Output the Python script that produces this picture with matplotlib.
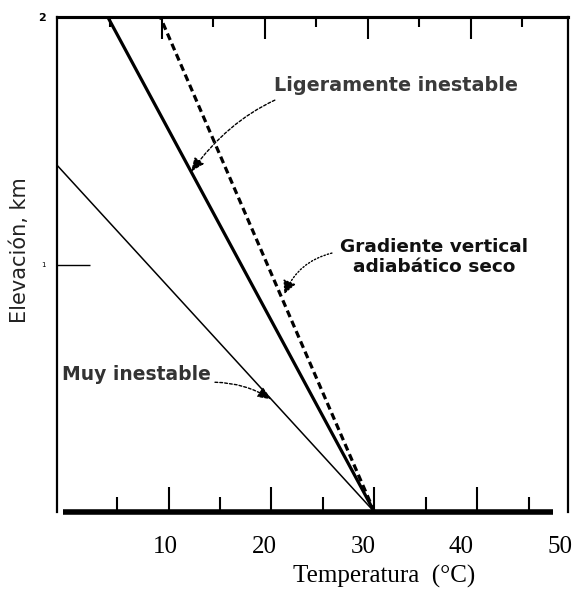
import numpy as np
import matplotlib
matplotlib.use("Agg")
import matplotlib.pyplot as plt

# ---- data ----
elev = [0.0, 2.0]                       # km
temp_dry = [30.0, 9.2]                   # dry adiabatic lapse rate (dashed)
temp_slight = [30.0, 4.1]                # slightly unstable (thick solid)
elev_very = [0.0, 1.40]
temp_very = [30.0, -0.8]                 # very unstable (thin solid)

xtick_major = [10, 20, 30, 40]
xtick_minor = [5, 15, 25, 35, 45]
xtick_labels = ["10", "20", "30", "40", "50"]
xtick_label_pos = [10, 20, 30, 40, 50]
ytick_vals = [1, 2]
ytick_labels = ["1", "2"]

lbl_slight = "Ligeramente inestable"
lbl_dry = "Gradiente vertical\nadiabático seco"
lbl_very = "Muy inestable"

fig = plt.figure(figsize=(5.75, 5.94), dpi=100)
pos = [57/575, (594-512)/594, (568-57)/575, (512-17)/594]
ax = fig.add_axes(pos)
ax.set_xlim(-0.83, 48.8)
ax.set_ylim(0, 2)

ax.plot(temp_dry, elev, color="black", lw=2.3, ls=(0, (2.2, 1.3)))
ax.plot(temp_slight, elev, color="black", lw=2.3)
ax.plot(temp_very, elev_very, color="black", lw=1.1)

# frame
for s in ["left", "right", "top"]:
    ax.spines[s].set_linewidth(1.6)
ax.spines["top"].set_linewidth(2.2)
ax.spines["bottom"].set_visible(False)
ax.axhline(0, xmin=0.012, xmax=0.97, color="black", lw=4, solid_capstyle="butt", clip_on=False)

# x ticks (inward, bottom)
ax.set_xticks(xtick_major)
ax.set_xticks(xtick_minor, minor=True)
ax.set_xticklabels([])
ax.tick_params(axis="x", which="major", direction="in", length=18, width=1.5,
               top=False, bottom=True)
ax.tick_params(axis="x", which="minor", direction="in", length=11, width=1.5,
               top=False, bottom=True)
# top ticks (slightly shifted in the scanned original)
sec = ax.secondary_xaxis("top", functions=(lambda v: v + 0.65, lambda v: v - 0.65))
sec.set_xticks(xtick_major)
sec.set_xticks(xtick_minor, minor=True)
sec.set_xticklabels([])
sec.tick_params(which="major", direction="in", length=16, width=1.5)
sec.tick_params(which="minor", direction="in", length=7, width=1.5)
sec.spines["top"].set_linewidth(2.2)

# tick labels row (own scale, as in the original print)
axl = fig.add_axes(pos, frameon=False)
axl.set_xlim(-1.0, 50.8)
axl.set_ylim(0, 2)
axl.set_yticks([])
axl.set_xticks(xtick_label_pos)
axl.set_xticklabels(xtick_labels, fontsize=18, family="Liberation Serif")
axl.tick_params(axis="x", length=0, pad=17)
axl.patch.set_visible(False)
axl.text(0.64, -0.131, "Temperatura  (°C)", ha="center", va="center",
         fontsize=18, family="Liberation Serif", transform=axl.transAxes)

# y ticks
ax.set_yticks(ytick_vals)
ax.set_yticklabels(ytick_labels)
ax.tick_params(axis="y", direction="in", length=24, width=1.0, pad=8)
tl = ax.get_yticklabels()
tl[0].set_fontsize(5)
tl[1].set_fontsize(8)
tl[1].set_fontweight("bold")
ax.set_ylabel("Elevación, km", fontsize=15, color="#222222")
ax.yaxis.set_label_coords(-0.053, 0.53)

# annotations
def on_line(xs, ys, y):
    return float(np.interp(y, ys, xs)), y

x1, y1 = on_line(temp_slight, elev, 1.375)
ax.annotate(lbl_slight, xy=(x1, y1), xytext=(20.2, 1.725), fontsize=13.8,
            fontweight="bold", color="#3a3a3a", ha="left", va="center",
            arrowprops=dict(arrowstyle="-|>,head_length=0.6,head_width=0.25",
                            ls=(0, (2, 1.5)), lw=1.0, color="black",
                            connectionstyle="arc3,rad=0.3", shrinkA=5, shrinkB=0))

x2, y2 = on_line(temp_dry, elev, 0.86)
ax.annotate(lbl_dry, xy=(x2, y2), xytext=(35.8, 1.03), fontsize=13.3,
            fontweight="bold", color="#111111", ha="center", va="center",
            linespacing=1.1,
            arrowprops=dict(arrowstyle="-|>,head_length=0.6,head_width=0.3",
                            ls=(0, (1, 1.5)), lw=1.0, color="black",
                            connectionstyle="arc3,rad=0.3", shrinkA=4, shrinkB=4,
                            relpos=(0.0, 0.65)))

x3, y3 = on_line(temp_very, elev_very, 0.455)
ax.annotate(lbl_very, xy=(x3, y3), xytext=(-0.35, 0.555), fontsize=13.5,
            fontweight="bold", color="#333333", ha="left", va="center",
            arrowprops=dict(arrowstyle="-|>,head_length=0.6,head_width=0.25",
                            ls=(0, (2, 1.5)), lw=1.0, color="black",
                            connectionstyle="arc3,rad=-0.15", shrinkA=1, shrinkB=0,
                            relpos=(1.0, 0.1)))

fig.savefig("out.png", dpi=100)
